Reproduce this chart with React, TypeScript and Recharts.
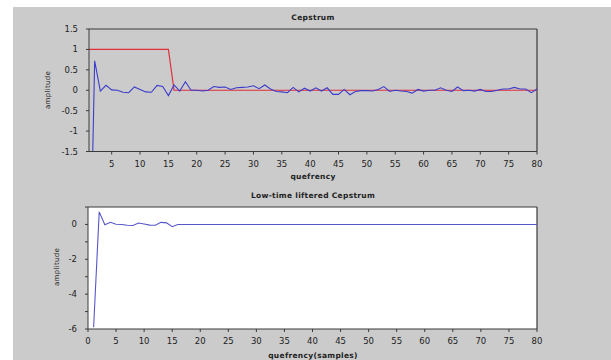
import React from 'react';
import { LineChart, Line, XAxis, YAxis, CartesianGrid, ReferenceLine } from 'recharts';

// sample index (quefrency)
const quefrency = [
  1, 2, 3, 4, 5, 6, 7, 8, 9, 10, 11, 12, 13, 14, 15, 16, 17, 18, 19, 20,
  21, 22, 23, 24, 25, 26, 27, 28, 29, 30, 31, 32, 33, 34, 35, 36, 37, 38, 39, 40,
  41, 42, 43, 44, 45, 46, 47, 48, 49, 50, 51, 52, 53, 54, 55, 56, 57, 58, 59, 60,
  61, 62, 63, 64, 65, 66, 67, 68, 69, 70, 71, 72, 73, 74, 75, 76, 77, 78, 79, 80,
];

const cepstrum = [
  -5.9, 0.72, -0.02, 0.12, 0.01, 0.0, -0.05, -0.06, 0.08, 0.02,
  -0.04, -0.05, 0.12, 0.09, -0.13, 0.13, -0.02, 0.21, 0.0, 0.0,
  -0.02, 0.0, 0.09, 0.07, 0.08, 0.02, 0.06, 0.07, 0.08, 0.11,
  0.04, 0.13, 0.03, -0.03, -0.04, -0.06, 0.07, -0.04, 0.05, -0.02,
  0.06, -0.02, 0.06, -0.1, -0.1, 0.02, -0.11, -0.03, -0.01, -0.01,
  -0.02, 0.02, 0.09, -0.03, 0.0, -0.02, -0.03, -0.07, 0.02, -0.02,
  0.0, 0.0, 0.06, 0.0, -0.03, 0.08, -0.01, 0.0, -0.02, 0.02,
  -0.03, -0.03, 0.0, 0.03, 0.03, 0.07, 0.03, 0.03, -0.06, 0.03,
];

const lifter = [
  1, 1, 1, 1, 1, 1, 1, 1, 1, 1, 1, 1, 1, 1, 1, 0, 0, 0, 0, 0,
  0, 0, 0, 0, 0, 0, 0, 0, 0, 0, 0, 0, 0, 0, 0, 0, 0, 0, 0, 0,
  0, 0, 0, 0, 0, 0, 0, 0, 0, 0, 0, 0, 0, 0, 0, 0, 0, 0, 0, 0,
  0, 0, 0, 0, 0, 0, 0, 0, 0, 0, 0, 0, 0, 0, 0, 0, 0, 0, 0, 0,
];

const liftered = [
  -5.9, 0.72, -0.02, 0.12, 0.01, 0.0, -0.05, -0.06, 0.08, 0.02,
  -0.04, -0.05, 0.12, 0.09, -0.13, 0, 0, 0, 0, 0,
  0, 0, 0, 0, 0, 0, 0, 0, 0, 0, 0, 0, 0, 0, 0, 0, 0, 0, 0, 0,
  0, 0, 0, 0, 0, 0, 0, 0, 0, 0, 0, 0, 0, 0, 0, 0, 0, 0, 0, 0,
  0, 0, 0, 0, 0, 0, 0, 0, 0, 0, 0, 0, 0, 0, 0, 0, 0, 0, 0, 0,
];

const topXTicks = [5, 10, 15, 20, 25, 30, 35, 40, 45, 50, 55, 60, 65, 70, 75, 80];
const topYTicks = [-1.5, -1, -0.5, 0, 0.5, 1, 1.5];
const bottomXTicks = [0, 5, 10, 15, 20, 25, 30, 35, 40, 45, 50, 55, 60, 65, 70, 75, 80];
const bottomYTicks = [-6, -5, -4, -3, -2, -1, 0, 1];

const topData = quefrency.map((q, i) => ({ q, cep: cepstrum[i], win: lifter[i] }));
const bottomData = quefrency.map((q, i) => ({ q, lift: liftered[i] }));

const FONT = '"DejaVu Sans", sans-serif';
const AXIS = '#3a3a3a';
const tickStyle = { fill: '#222', fontSize: 8.5, fontFamily: FONT };

const label = (text: string, x: number, y: number, bold = true, rotate = false): React.ReactNode => (
  <div
    style={{
      position: 'absolute',
      left: x,
      top: y,
      transform: `translate(-50%, -50%)${rotate ? ' rotate(-90deg)' : ''}`,
      fontFamily: FONT,
      fontSize: rotate ? 7 : 7.5,
      fontWeight: bold ? 'bold' : 'normal',
      color: '#222',
      whiteSpace: 'nowrap',
      letterSpacing: 0.3,
    }}
  >
    {text}
  </div>
);

export default function App() {
  return (
    <div style={{ position: 'absolute', left: 0, top: 0, width: 611, height: 360, background: '#fff', overflow: 'hidden' }}>
      <div style={{ position: 'absolute', left: 13, top: 7, width: 598, height: 353, background: '#cbcbcb' }} />

      <div style={{ position: 'absolute', left: 0, top: 0 }}>
        <LineChart width={611} height={180} data={topData} margin={{ top: 29, right: 74, left: 49, bottom: 8.5 }}>
          <XAxis
            dataKey="q"
            type="number"
            domain={[1, 80]}
            ticks={topXTicks}
            height={20}
            stroke={AXIS}
            tickSize={3}
            tickMargin={6}
            tick={tickStyle}
          />
          <YAxis
            type="number"
            domain={[-1.5, 1.5]}
            ticks={topYTicks}
            allowDataOverflow
            width={40}
            stroke={AXIS}
            tickSize={3}
            tickMargin={8}
            tick={tickStyle}
          />
          <ReferenceLine y={1.5} stroke={AXIS} strokeWidth={1.2} />
          <ReferenceLine x={80} stroke={AXIS} strokeWidth={1.2} />
          <Line dataKey="win" stroke="#e0303c" strokeWidth={1.2} dot={false} isAnimationActive={false} type="linear" />
          <Line dataKey="cep" stroke="#3c3ccc" strokeWidth={1.1} dot={false} isAnimationActive={false} type="linear" />
        </LineChart>
      </div>

      <div style={{ position: 'absolute', left: 0, top: 180 }}>
        <LineChart width={611} height={180} data={bottomData} margin={{ top: 27, right: 74, left: 48, bottom: 11 }}>
          <CartesianGrid horizontal={false} vertical={false} fill="#ffffff" stroke="none" />
          <XAxis
            dataKey="q"
            type="number"
            domain={[0, 80]}
            ticks={bottomXTicks}
            height={20}
            stroke={AXIS}
            tickSize={3}
            tickMargin={6}
            tick={tickStyle}
          />
          <YAxis
            type="number"
            domain={[-6, 1]}
            ticks={bottomYTicks}
            tickFormatter={(v: number) => (v % 2 === 0 ? String(v) : '')}
            width={40}
            stroke={AXIS}
            tickSize={3}
            tickMargin={8}
            tick={tickStyle}
          />
          <ReferenceLine y={1} stroke={AXIS} strokeWidth={1.2} />
          <ReferenceLine x={80} stroke={AXIS} strokeWidth={1.2} />
          <Line dataKey="lift" stroke="#5656c8" strokeWidth={1.1} dot={false} isAnimationActive={false} type="linear" />
        </LineChart>
      </div>

      {label('Cepstrum', 313, 17)}
      {label('quefrency', 313, 176)}
      {label('amplitude', 48, 90, false, true)}
      {label('Low-time liftered Cepstrum', 313, 195)}
      {label('quefrency(samples)', 313, 355)}
      {label('amplitude', 57, 267, false, true)}
    </div>
  );
}
